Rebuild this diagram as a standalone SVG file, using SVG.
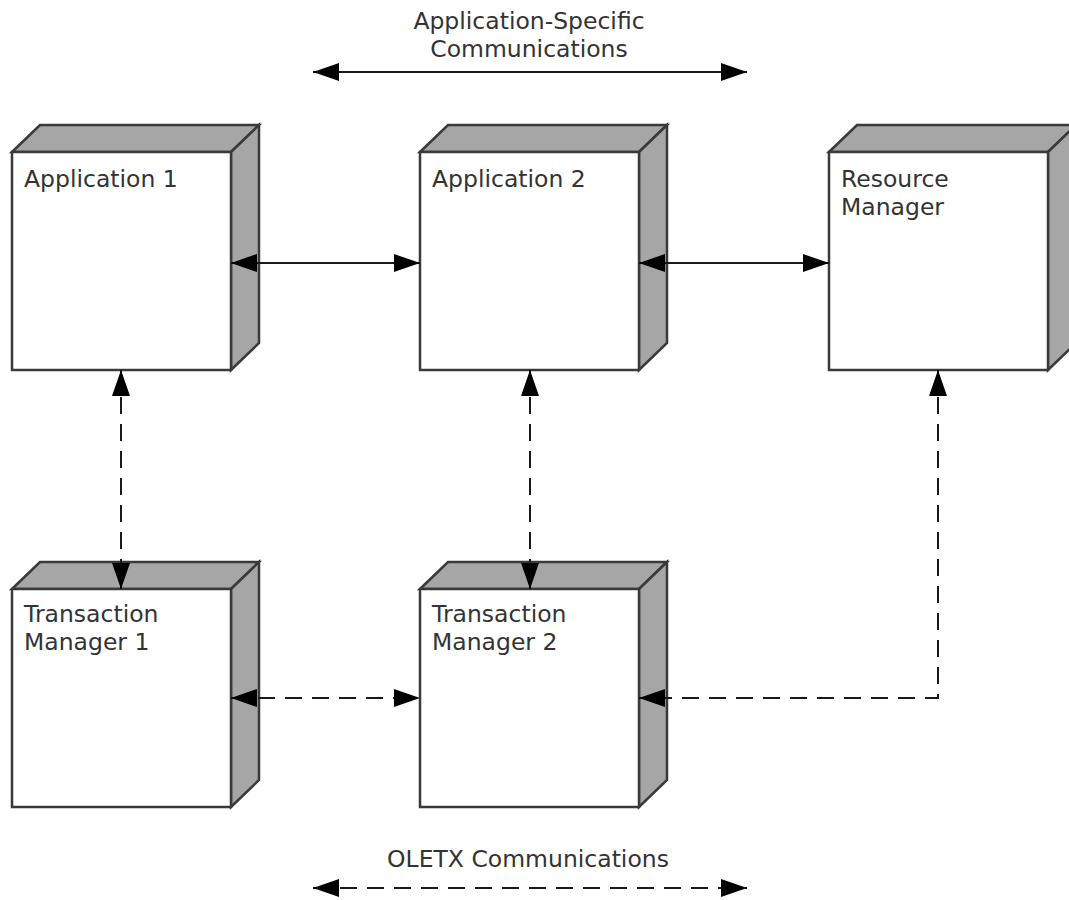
<svg xmlns="http://www.w3.org/2000/svg" width="1069" height="900" viewBox="0 0 1069 900">
<style>
.front{fill:#ffffff;stroke:#3a3a3a;stroke-width:2.5}
.face{fill:#a6a6a6;stroke:#3a3a3a;stroke-width:2.5;stroke-linejoin:miter}
.lbl{font-family:"DejaVu Sans","Verdana",sans-serif;font-size:23.5px;fill:#333333}
.cap{font-family:"DejaVu Sans","Verdana",sans-serif;font-size:23.5px;fill:#333333;text-anchor:middle}
.solid{fill:none;stroke:#1a1a1a;stroke-width:2;marker-start:url(#ah);marker-end:url(#ah)}
.dash{fill:none;stroke:#1a1a1a;stroke-width:2;stroke-dasharray:17 10;marker-start:url(#ah);marker-end:url(#ah)}
</style>
<defs>
<marker id="ah" markerUnits="userSpaceOnUse" markerWidth="28" markerHeight="20" refX="26" refY="9" orient="auto-start-reverse" viewBox="0 0 28 20">
<path d="M0,0 L26,9 L0,18 z" fill="#000000"/>
</marker>
</defs>
<rect width="1069" height="900" fill="#ffffff"/>

<g id="application1">
<polygon class="face" points="12,152 40,125 259,125 231,152"/>
<polygon class="face" points="231,152 259,125 259,343 231,370"/>
<rect class="front" x="12" y="152" width="219" height="218"/>
<text class="lbl" x="24" y="187">Application 1</text>
</g>

<g id="application2">
<polygon class="face" points="420,152 448,125 667,125 639,152"/>
<polygon class="face" points="639,152 667,125 667,343 639,370"/>
<rect class="front" x="420" y="152" width="219" height="218"/>
<text class="lbl" x="432" y="187">Application 2</text>
</g>

<g id="resourceManager">
<polygon class="face" points="829,152 857,125 1076,125 1048,152"/>
<polygon class="face" points="1048,152 1076,125 1076,343 1048,370"/>
<rect class="front" x="829" y="152" width="219" height="218"/>
<text class="lbl" x="841" y="187">Resource</text>
<text class="lbl" x="841" y="215">Manager</text>
</g>

<g id="transactionManager1">
<polygon class="face" points="12,589 40,562 259,562 231,589"/>
<polygon class="face" points="231,589 259,562 259,780 231,807"/>
<rect class="front" x="12" y="589" width="219" height="218"/>
<text class="lbl" x="24" y="622">Transaction</text>
<text class="lbl" x="24" y="650">Manager 1</text>
</g>

<g id="transactionManager2">
<polygon class="face" points="420,589 448,562 667,562 639,589"/>
<polygon class="face" points="639,589 667,562 667,780 639,807"/>
<rect class="front" x="420" y="589" width="219" height="218"/>
<text class="lbl" x="432" y="622">Transaction</text>
<text class="lbl" x="432" y="650">Manager 2</text>
</g>

<g id="legendTop">
<text class="cap" x="529" y="29">Application-Specific</text>
<text class="cap" x="529" y="57">Communications</text>
</g>
<g id="legendBottom">
<text class="cap" x="528" y="867">OLETX Communications</text>
</g>

<g id="connectors">
<line class="solid" x1="231" y1="263" x2="420" y2="263"/>
<line class="solid" x1="639" y1="263" x2="829" y2="263"/>
<line class="dash" x1="121" y1="370" x2="121" y2="589"/>
<line class="dash" x1="530" y1="370" x2="530" y2="589"/>
<line class="dash" x1="231" y1="698" x2="420" y2="698"/>
<path class="dash" d="M938,370 L938,698 L639,698"/>
<line class="solid" x1="313" y1="72" x2="747" y2="72"/>
<line class="dash" x1="313" y1="888" x2="747" y2="888"/>
</g>
</svg>
